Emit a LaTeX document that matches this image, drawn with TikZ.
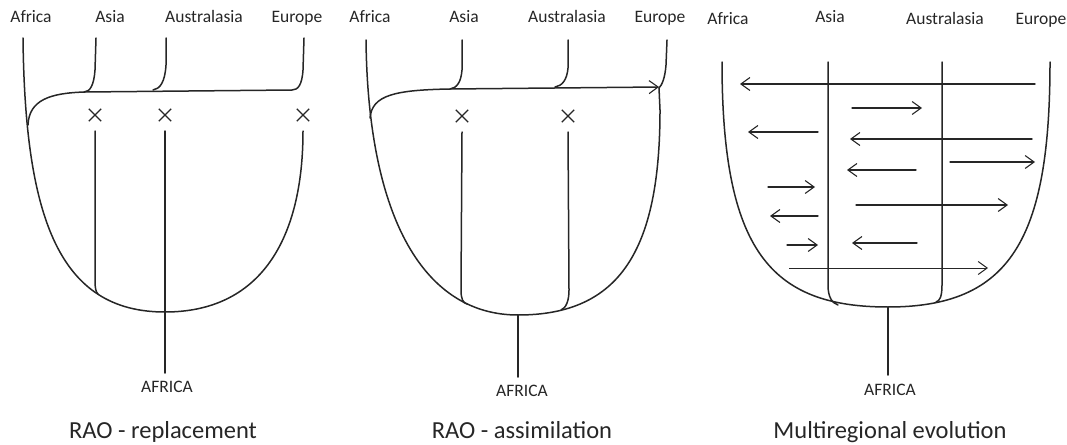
\documentclass[tikz,border=0pt]{standalone}
\usepackage{fontspec}
\setmainfont{Carlito}
\usetikzlibrary{arrows.meta,shapes.misc}
\definecolor{ink}{HTML}{262626}
\begin{document}
\begin{tikzpicture}[x=1pt,y=-1pt,
  line/.style={draw=ink,line width=1.5pt,line cap=round,line join=round},
  region/.style={font=\fontsize{17.5}{20}\selectfont,text=ink,anchor=base,inner sep=0pt},
  origin/.style={font=\fontsize{17.5}{20}\selectfont,text=ink,anchor=base,inner sep=0pt},
  title/.style={font=\fontsize{24.5}{28}\selectfont,text=ink,anchor=base,inner sep=0pt},
  extinct/.style={cross out,draw=ink,line width=1.3pt,minimum size=11pt,inner sep=0pt},
  flow/.style={line,line width=1.3pt,-{Straight Barb[length=9pt,width=13pt,line width=1.1pt]}},
  thinflow/.style={draw=ink,line width=0.6pt,-{Straight Barb[length=9pt,width=13pt,line width=1pt]}},
]
\useasboundingbox (0,0) rectangle (1067,444);

% ---------- Panel 1: RAO - replacement ----------
\node[region] (p1af) at (31,23) {Africa};
\node[region] (p1as) at (110,23) {Asia};
\node[region] (p1au) at (204,23) {Australasia};
\node[region] (p1eu) at (297,23) {Europe};
\draw[line] (23,38) .. controls (25,220) and (60,312) .. (165,312)
            .. controls (260,312) and (303,240) .. (303,131);
\draw[line] (28,125) .. controls (29,100) and (50,93) .. (85,92) -- (292,90)
            .. controls (298,90) and (302,85) .. (303,70) -- (304,38);
\draw[line] (96,38) -- (95,70) .. controls (94,85) and (90,92) .. (84,92);
\draw[line] (166,38) -- (166,65) .. controls (165,82) and (160,89) .. (153,90);
\node[extinct] (p1x1) at (95,115) {};
\node[extinct] (p1x2) at (165,115) {};
\node[extinct] (p1x3) at (303,115) {};
\draw[line] (95,131) -- (95,280) .. controls (95,289) and (96,292) .. (98,294);
\draw[line] (165,131) -- (165,373);
\node[origin] (p1o) at (167,392) {AFRICA};
\node[title] (p1t) at (163,438) {RAO - replacement};

% ---------- Panel 2: RAO - assimilation ----------
\node[region] (p2af) at (370,23) {Africa};
\node[region] (p2as) at (464,23) {Asia};
\node[region] (p2au) at (567,23) {Australasia};
\node[region] (p2eu) at (660,23) {Europe};
\draw[line] (366,40) .. controls (368,220) and (425,315) .. (518,315)
            .. controls (620,315) and (660,250) .. (660,110) -- (659,88);
\draw[line] (667,40) -- (666,65) .. controls (665,78) and (662,85) .. (659,88);
\draw[flow,line width=1.5pt] (370,118) .. controls (372,95) and (395,90) .. (450,89) -- (659,87);
\draw[line] (462,40) -- (462,70) .. controls (461,82) and (457,88) .. (450,89);
\draw[line] (568,40) -- (568,68) .. controls (567,80) and (562,86) .. (555,87);
\node[extinct] (p2x1) at (462,116) {};
\node[extinct] (p2x2) at (568,116) {};
\draw[line] (462,132) -- (461,290) .. controls (461,299) and (463,303) .. (467,304);
\draw[line] (568,132) -- (569,290) .. controls (569,301) and (566,308) .. (561,310);
\draw[line] (518,315) -- (518,377);
\node[origin] (p2o) at (522,396) {AFRICA};
\node[title] (p2t) at (522,438) {RAO - assimilation};

% ---------- Panel 3: Multiregional evolution ----------
\node[region] (p3af) at (728,25) {Africa};
\node[region] (p3as) at (830,23) {Asia};
\node[region] (p3au) at (945,25) {Australasia};
\node[region] (p3eu) at (1041,25) {Europe};
\draw[line] (722,62) .. controls (722,250) and (770,307) .. (888,307)
            .. controls (1010,307) and (1050,240) .. (1050,62);
\draw[line] (828,62) -- (828,285) .. controls (828,297) and (832,303) .. (838,305);
\draw[line] (942,62) -- (942,285) .. controls (942,296) and (940,301) .. (936,302);
\draw[line] (888,307) -- (888,375);
\draw[flow] (1035,84) -- (740,84);
\draw[flow] (852,108) -- (922,108);
\draw[flow] (818,132) -- (748,132);
\draw[flow] (1032,139) -- (850,139);
\draw[flow] (950,162) -- (1035,162);
\draw[flow] (916,170) -- (847,170);
\draw[flow] (768,187) -- (815,187);
\draw[flow] (856,205) -- (1008,205);
\draw[flow] (818,216) -- (770,216);
\draw[flow] (787,245) -- (818,245);
\draw[flow] (917,243) -- (852,243);
\draw[thinflow] (789,268) -- (988,268);
\node[origin] (p3o) at (890,395) {AFRICA};
\node[title] (p3t) at (890,438) {Multiregional evolution};
\end{tikzpicture}
\end{document}
